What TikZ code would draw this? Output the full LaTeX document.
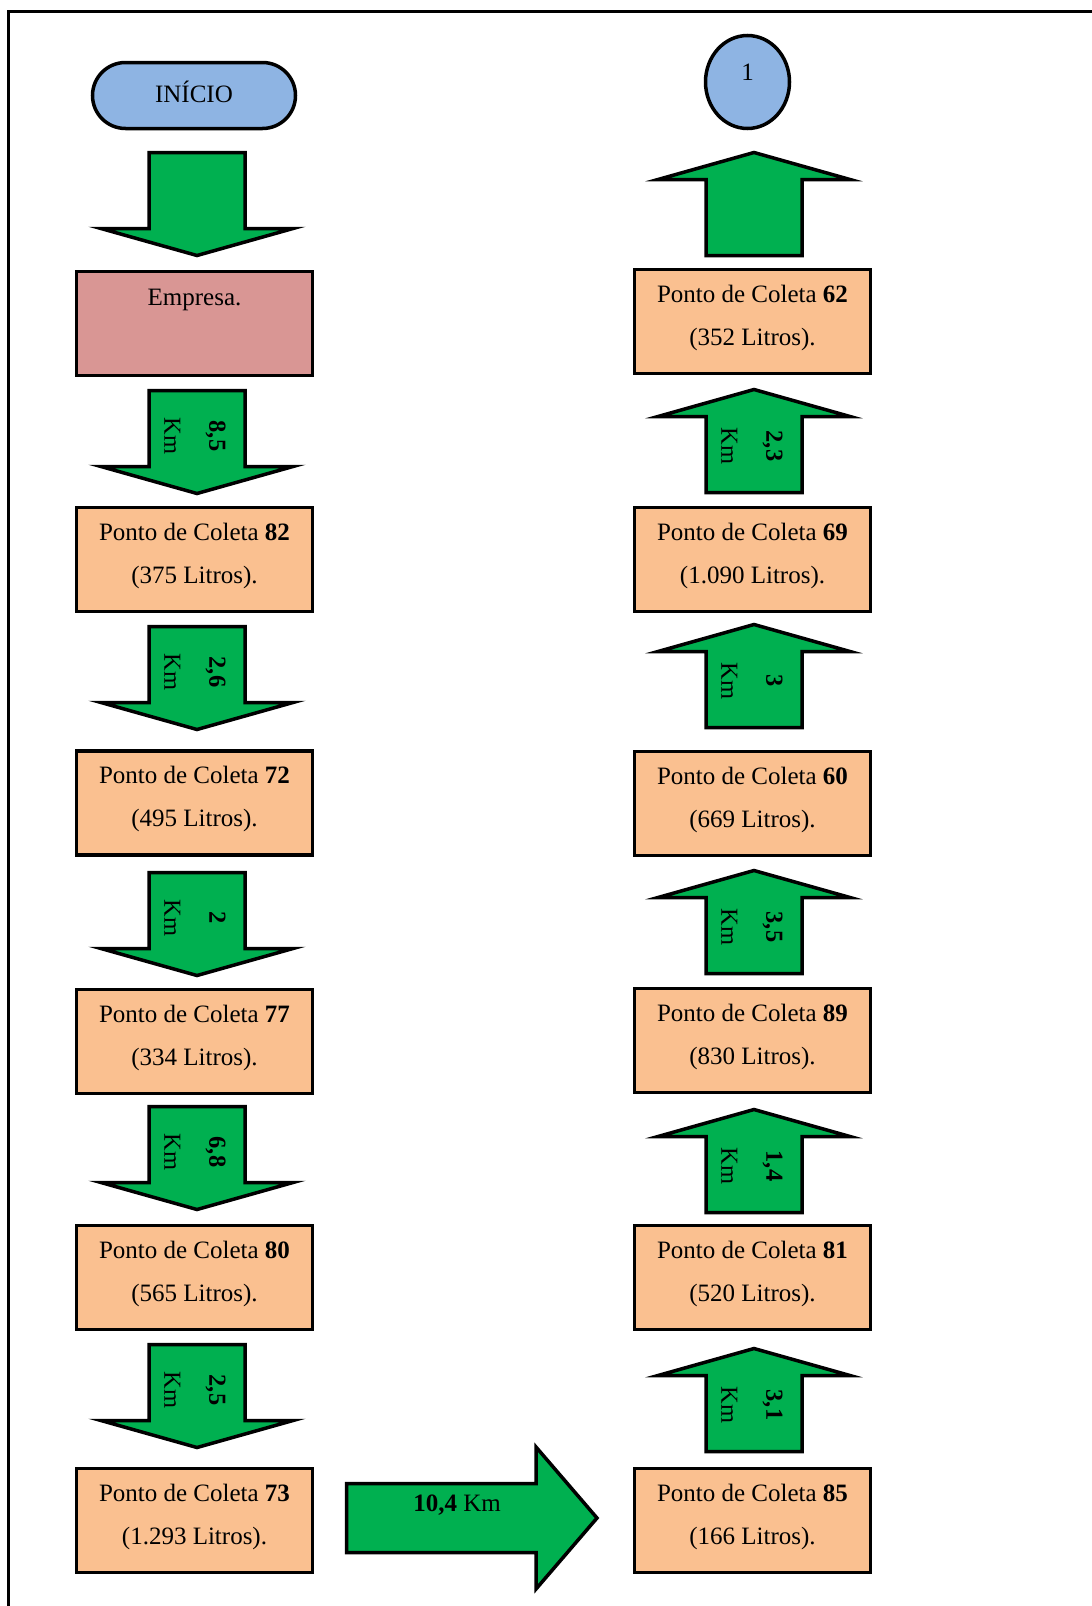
\documentclass[tikz,border=0pt]{standalone}
\usepackage{fontspec}
\setmainfont{Liberation Serif}
\usetikzlibrary{shapes.misc,shapes.geometric}

\definecolor{flowgreen}{HTML}{00B050}
\definecolor{startblue}{HTML}{8EB4E3}
\definecolor{firmpink}{HTML}{D99694}
\definecolor{ptorange}{HTML}{FAC090}

\tikzset{
  outline/.style={draw=black, line width=3.5pt},
  txt/.style={font=\fontsize{25}{30}\selectfont, inner sep=0pt, outer sep=0pt},
  terminal/.style={outline, rounded rectangle, fill=startblue, minimum width=203pt,
    minimum height=66pt, inner sep=0pt, outer sep=0pt, txt, text height=17pt, text depth=4pt},
  connector/.style={outline, ellipse, fill=startblue, minimum width=84pt,
    minimum height=93pt, inner sep=0pt, outer sep=0pt, txt, text height=8pt, text depth=12pt},
  firmbox/.style={outline, rectangle, fill=firmpink, minimum width=236pt,
    minimum height=104pt, inner sep=0pt, outer sep=0pt, anchor=north},
  ptbox/.style={outline, rectangle, fill=ptorange, minimum width=236pt,
    minimum height=104pt, inner sep=0pt, outer sep=0pt, anchor=north},
  blockarrow/.style={outline, fill=flowgreen, line join=miter, miter limit=12},
  kmlabel/.style={font=\fontsize{24.5}{45}\selectfont, align=center, rotate=-90,
    inner sep=0pt, outer sep=0pt},
}

% collection point box: name, centre x, top y, point number, litres
\newcommand\ponto[5]{%
  \node[ptbox] (#1) at (#2,#3) {};
  \node[txt, anchor=base] (#1-a) at ([yshift=-32.5pt]#1.north) {Ponto de Coleta \textbf{#4}};
  \node[txt, anchor=base] (#1-b) at ([yshift=-75.5pt]#1.north) {(#5 Litros).};
}
% downward block arrow: centre x, top y
\newcommand\downblock[2]{%
  \draw[blockarrow] (#1-48,#2) -- (#1+48,#2) -- (#1+48,#2+76) -- (#1+96,#2+76)
    -- (#1,#2+103) -- (#1-96,#2+76) -- (#1-48,#2+76) -- cycle;
}
% upward block arrow: centre x, tip y
\newcommand\upblock[2]{%
  \draw[blockarrow] (#1,#2) -- (#1+96,#2+27) -- (#1+48,#2+27) -- (#1+48,#2+103)
    -- (#1-48,#2+103) -- (#1-48,#2+27) -- (#1-96,#2+27) -- cycle;
}

\begin{document}
\begin{tikzpicture}[x=1pt, y=-1pt]
\useasboundingbox (0,0) rectangle (1092,1606);

% page frame
\draw[line width=3pt] (8.5,1606) -- (8.5,11) -- (1092,11);

% ---- left column ----
\node[terminal] (inicio) at (194,95.5) {INÍCIO};
\downblock{197}{152.5}
\node[firmbox] (empresa) at (194.5,271.5) {};
\node[txt, anchor=base] (empresa-a) at ([yshift=-33.5pt]empresa.north) {Empresa.};

\downblock{197}{390.5}
\node[kmlabel] (d1) at (195,436) {\textbf{8,5}\\Km};
\ponto{p82}{194.5}{507.5}{82}{375}

\downblock{197}{626.5}
\node[kmlabel] (d2) at (195,672) {\textbf{2,6}\\Km};
\ponto{p72}{194.5}{751}{72}{495}

\downblock{197}{872.5}
\node[kmlabel] (d3) at (195,918) {\textbf{2}\\Km};
\ponto{p77}{194.5}{989.5}{77}{334}

\downblock{197}{1106.5}
\node[kmlabel] (d4) at (195,1152) {\textbf{6,8}\\Km};
\ponto{p80}{194.5}{1225.5}{80}{565}

\downblock{197}{1344.5}
\node[kmlabel] (d5) at (195,1390) {\textbf{2,5}\\Km};
\ponto{p73}{194.5}{1468.5}{73}{1.293}

% ---- crossing to the right column ----
\draw[blockarrow] (346.5,1483.5) -- (536,1483.5) -- (536,1447) -- (597,1518)
  -- (536,1589) -- (536,1552.5) -- (346.5,1552.5) -- cycle;
\node[txt, anchor=base] (d6) at (457,1511) {\textbf{10,4} Km};

% ---- right column ----
\ponto{p85}{752.5}{1468.5}{85}{166}
\upblock{754}{1348.5}
\node[kmlabel] (d7) at (752,1405) {\textbf{3,1}\\Km};

\ponto{p81}{752.5}{1225.5}{81}{520}
\upblock{754}{1109.5}
\node[kmlabel] (d8) at (752,1166) {\textbf{1,4}\\Km};

\ponto{p89}{752.5}{988.5}{89}{830}
\upblock{754}{870.5}
\node[kmlabel] (d9) at (752,927) {\textbf{3,5}\\Km};

\ponto{p60}{752.5}{751.5}{60}{669}
\upblock{754}{624.5}
\node[kmlabel] (d10) at (752,681) {\textbf{3}\\Km};

\ponto{p69}{752.5}{507.5}{69}{1.090}
\upblock{754}{389.5}
\node[kmlabel] (d11) at (752,446) {\textbf{2,3}\\Km};

\ponto{p62}{752.5}{269.5}{62}{352}
\upblock{754}{152.5}

\node[connector] (c1) at (747.5,82) {1};
\end{tikzpicture}
\end{document}
